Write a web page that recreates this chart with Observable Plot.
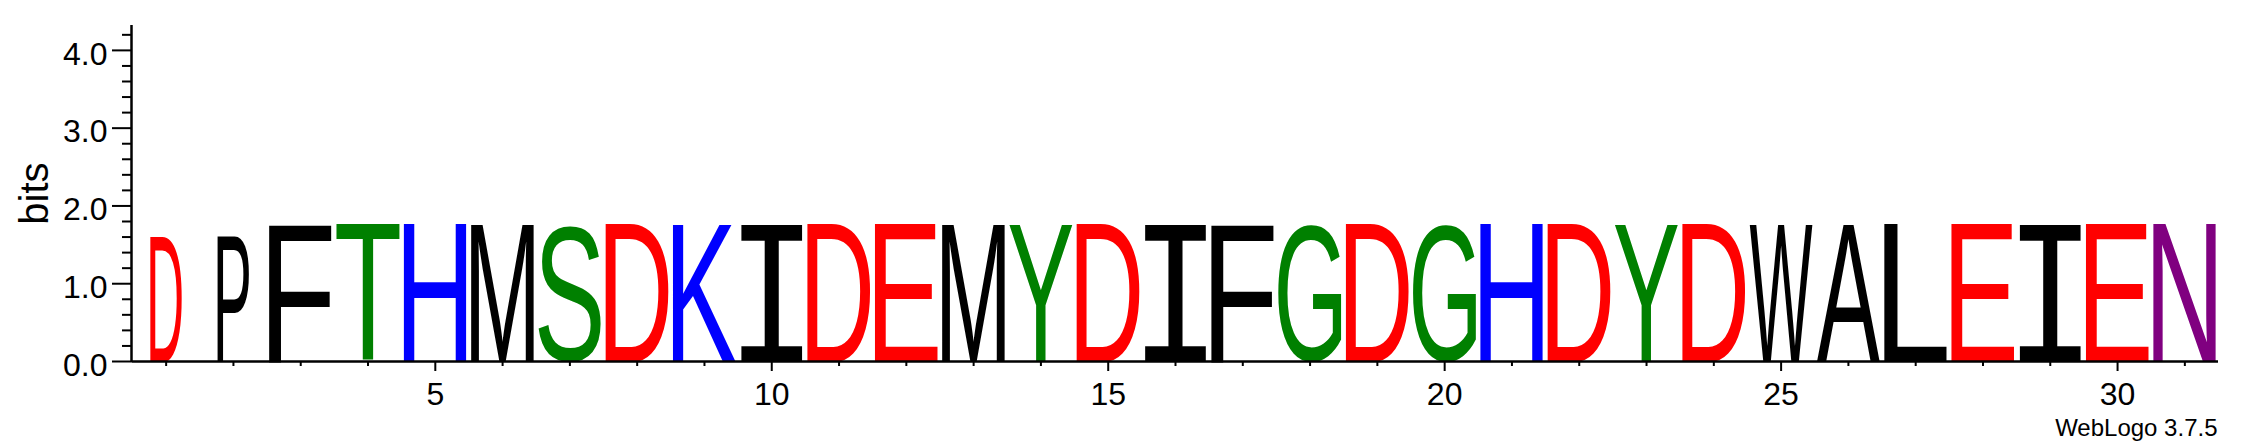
<!DOCTYPE html>
<html>
<head>
<meta charset="utf-8">
<script src="https://cdn.jsdelivr.net/npm/d3@7"></script>
<script src="https://cdn.jsdelivr.net/npm/@observablehq/plot@0.6"></script>
<style>
  html, body { margin: 0; padding: 0; background: #ffffff; }
  #chart svg { display: block; }
</style>
</head>
<body>
<div id="chart"></div>
<script>
// ---- data ----
const positions = [1,2,3,4,5,6,7,8,9,10,11,12,13,14,15,16,17,18,19,20,21,22,23,24,25,26,27,28,29,30,31];
const letters = ["D","P","F","T","H","M","S","D","K","I","D","E","M","Y","D","I","F","G","D","G","H","D","Y","D","W","A","L","E","I","E","N"];
const heightsBits = [1.62,1.62,1.77,1.77,1.77,1.77,1.77,1.77,1.77,1.77,1.77,1.77,1.77,1.77,1.77,1.77,1.77,1.77,1.77,1.77,1.77,1.77,1.77,1.77,1.77,1.77,1.77,1.77,1.77,1.77,1.77];
const stackWidths = [0.5,0.5,1,1,1,1,1,1,1,1,1,1,1,1,1,1,1,1,1,1,1,1,1,1,1,1,1,1,1,1,1];
const majorYTicks = [0,1,2,3,4];
const minorYTicks = [0.2,0.4,0.6,0.8,1.2,1.4,1.6,1.8,2.2,2.4,2.6,2.8,3.2,3.4,3.6,3.8,4.2];
const majorXTicks = [5,10,15,20,25,30];
const minorXTicks = [1,2,3,4,6,7,8,9,11,12,13,14,16,17,18,19,21,22,23,24,26,27,28,29,31];
const yLabel = "bits";
const fineprint = "WebLogo 3.7.5";
const chemistryColors = {
  G: "#008000", S: "#008000", T: "#008000", Y: "#008000", C: "#008000",
  N: "#800080", Q: "#800080",
  K: "#0000ff", R: "#0000ff", H: "#0000ff",
  D: "#ff0000", E: "#ff0000",
  P: "#000000", A: "#000000", W: "#000000", F: "#000000", L: "#000000", I: "#000000", M: "#000000", V: "#000000"
};

const rows = positions.map((p, i) => ({
  pos: p, letter: letters[i], h: heightsBits[i], w: stackWidths[i], color: chemistryColors[letters[i]]
}));

const FONT = "'Liberation Sans', Arial, Helvetica, sans-serif";

const plot = Plot.plot({
  width: 2243,
  height: 444,
  marginLeft: 132,
  marginRight: 25,
  marginTop: 25,
  marginBottom: 83,
  x: { domain: [0.5, 31.5], axis: null },
  y: { domain: [0, 4.32], axis: null },
  color: { type: "identity" },
  style: { fontFamily: FONT, fontSize: "32px", color: "#000", background: "#fff" },
  marks: [
    Plot.text(rows, {
      x: "pos", y: 0, text: "letter", fill: "color",
      fontSize: 100, fontFamily: "Liberation Sans",
      textAnchor: "start", lineAnchor: "bottom",
      ariaDescription: "logo-letters"
    }),
    // axis lines
    Plot.ruleX([0.5], { stroke: "#000", strokeWidth: 2.5, dx: -1 }),
    Plot.ruleY([0], { stroke: "#000", strokeWidth: 2.5 }),
    // y ticks
    Plot.axisY(majorYTicks, { anchor: "left", tickSize: 20, fill: "none", strokeWidth: 2, label: null }),
    Plot.axisY(minorYTicks, { anchor: "left", tickSize: 10, fill: "none", strokeWidth: 2, label: null }),
    Plot.axisY(majorYTicks, { anchor: "left", tickSize: 0, tickPadding: 25, tickFormat: d3.format(".1f"), fontSize: 32, dy: 4, label: null }),
    // x ticks
    Plot.axisX(majorXTicks, { anchor: "bottom", tickSize: 10, fill: "none", strokeWidth: 2, label: null }),
    Plot.axisX(minorXTicks, { anchor: "bottom", tickSize: 5, fill: "none", strokeWidth: 2, label: null }),
    Plot.axisX(majorXTicks, { anchor: "bottom", tickSize: 0, tickPadding: 21, tickFormat: d3.format("d"), fontSize: 32, label: null }),
    // y label
    Plot.text([yLabel], { frameAnchor: "left", text: d => d, rotate: -90, fontSize: 40, dx: -85, textAnchor: "middle", lineAnchor: "bottom" }),
    // fineprint
    Plot.text([fineprint], { frameAnchor: "bottom-right", text: d => d, fontSize: 24, textAnchor: "end", lineAnchor: "bottom", dy: 74, dx: -1 })
  ]
});

document.getElementById("chart").appendChild(plot);

// Stretch each letter glyph so that its ink fills its stack box (WebLogo style),
// using the plot's own x and y scales.
const sxScale = plot.scale("x"), syScale = plot.scale("y");
const fx = d3.scaleLinear(sxScale.domain, sxScale.range);
const fy = d3.scaleLinear(syScale.domain, syScale.range);
const ctx = document.createElement("canvas").getContext("2d");
let letterGroup = plot.querySelector('g[aria-description="logo-letters"]');
if (!letterGroup) letterGroup = plot.querySelector('g[aria-label="text"]');
const letterEls = letterGroup ? letterGroup.querySelectorAll("text") : [];
letterEls.forEach((el, i) => {
  const r = rows[i];
  if (!r) return;
  const fam = r.letter === "I" ? "Liberation Mono" : "Liberation Sans";
  ctx.font = `100px "${fam}"`;
  const m = ctx.measureText(r.letter);
  const left = -m.actualBoundingBoxLeft, right = m.actualBoundingBoxRight;
  const top = -m.actualBoundingBoxAscent, bottom = m.actualBoundingBoxDescent;
  const half = 0.4715 * r.w;
  const x0 = fx(r.pos - half), x1 = fx(r.pos + half);
  const yb = fy(0), yt = fy(r.h);
  const sx = (x1 - x0) / (right - left);
  const sy = (yb - yt) / (bottom - top);
  el.removeAttribute("x"); el.removeAttribute("y"); el.removeAttribute("dy");
  el.setAttribute("text-anchor", "start");
  el.style.fontFamily = `"${fam}"`;
  el.style.fontSize = "100px";
  el.setAttribute("transform", `translate(${x0 - left * sx},${yb - bottom * sy}) scale(${sx},${sy})`);
});
</script>
</body>
</html>
